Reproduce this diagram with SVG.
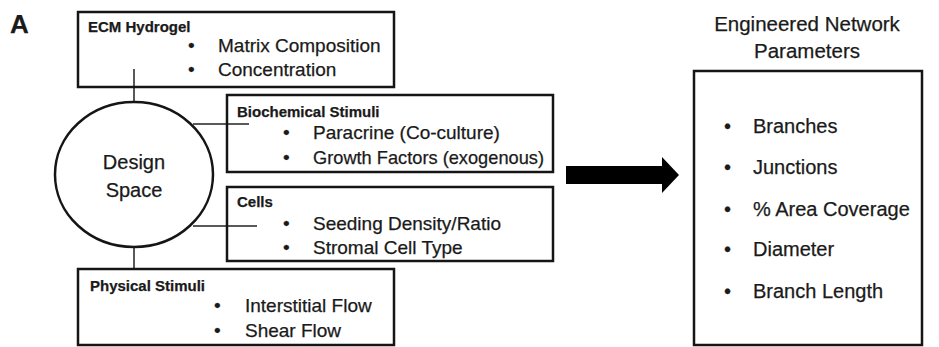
<svg xmlns="http://www.w3.org/2000/svg" width="939" height="347" viewBox="0 0 939 347">
<style>
.box{fill:none;stroke:#151515;stroke-width:2.5}
.con{stroke:#222;stroke-width:1.5;fill:none}
.t{font-family:"Liberation Sans",Arial,sans-serif;fill:#1a1a1a;stroke:#1a1a1a;stroke-width:0.25}
.h{font-weight:bold;font-size:15px}
.i{font-size:19px}
.r{font-size:20px}
.ti{font-size:20.5px}
</style>
<rect width="939" height="347" fill="#fff"/>
<text class="t" x="10" y="33" font-size="26" font-weight="bold">A</text>
<g id="connectors">
<line class="con" x1="134" y1="69" x2="134" y2="102"/>
<line class="con" x1="193" y1="124" x2="249" y2="124"/>
<line class="con" x1="193" y1="226" x2="257" y2="226"/>
<line class="con" x1="134" y1="247" x2="134" y2="269"/>
<polygon id="arrow" points="566,166 662,166 662,157 679,175 662,193 662,184 566,184" fill="#000"/>
</g>
<g id="ecm">
<rect class="box" x="78" y="12" width="316" height="75"/>
<text class="t h" x="88" y="32">ECM Hydrogel</text>
<text class="t i" x="188" y="52">•</text><text class="t i" x="218" y="52">Matrix Composition</text>
<text class="t i" x="188" y="76">•</text><text class="t i" x="218" y="76">Concentration</text>
</g>
<g id="design">
<ellipse cx="134" cy="174.5" rx="79" ry="72.5" fill="#fff" stroke="#151515" stroke-width="2.5"/>
<text class="t r" x="134" y="169" text-anchor="middle">Design</text>
<text class="t r" x="134" y="197" text-anchor="middle">Space</text>
</g>
<g id="biochem">
<rect class="box" x="227" y="95" width="326" height="77"/>
<text class="t h" x="237" y="117">Biochemical Stimuli</text>
<text class="t i" x="283" y="139">•</text><text class="t i" x="313" y="139">Paracrine (Co-culture)</text>
<text class="t i" x="283" y="164">•</text><text class="t i" x="313" y="164" textLength="231" lengthAdjust="spacingAndGlyphs">Growth Factors (exogenous)</text>
</g>
<g id="cells">
<rect class="box" x="227" y="187" width="326" height="74"/>
<text class="t h" x="237" y="207">Cells</text>
<text class="t i" x="283" y="230">•</text><text class="t i" x="313" y="230">Seeding Density/Ratio</text>
<text class="t i" x="283" y="254">•</text><text class="t i" x="313" y="254">Stromal Cell Type</text>
</g>
<g id="physical">
<rect class="box" x="78" y="269" width="316" height="76"/>
<text class="t h" x="90" y="291">Physical Stimuli</text>
<text class="t i" x="214" y="312">•</text><text class="t i" x="245" y="312">Interstitial Flow</text>
<text class="t i" x="214" y="337">•</text><text class="t i" x="245" y="337">Shear Flow</text>
</g>
<g id="params">
<text class="t ti" x="807" y="31" text-anchor="middle">Engineered Network</text>
<text class="t ti" x="807" y="58" text-anchor="middle">Parameters</text>
<rect class="box" x="694" y="71" width="228" height="274"/>
<text class="t r" x="724" y="133">•</text><text class="t r" x="753" y="133">Branches</text>
<text class="t r" x="724" y="174">•</text><text class="t r" x="753" y="174">Junctions</text>
<text class="t r" x="724" y="216">•</text><text class="t r" x="753" y="216">% Area Coverage</text>
<text class="t r" x="724" y="256">•</text><text class="t r" x="753" y="256">Diameter</text>
<text class="t r" x="724" y="298">•</text><text class="t r" x="753" y="298">Branch Length</text>
</g>
</svg>
